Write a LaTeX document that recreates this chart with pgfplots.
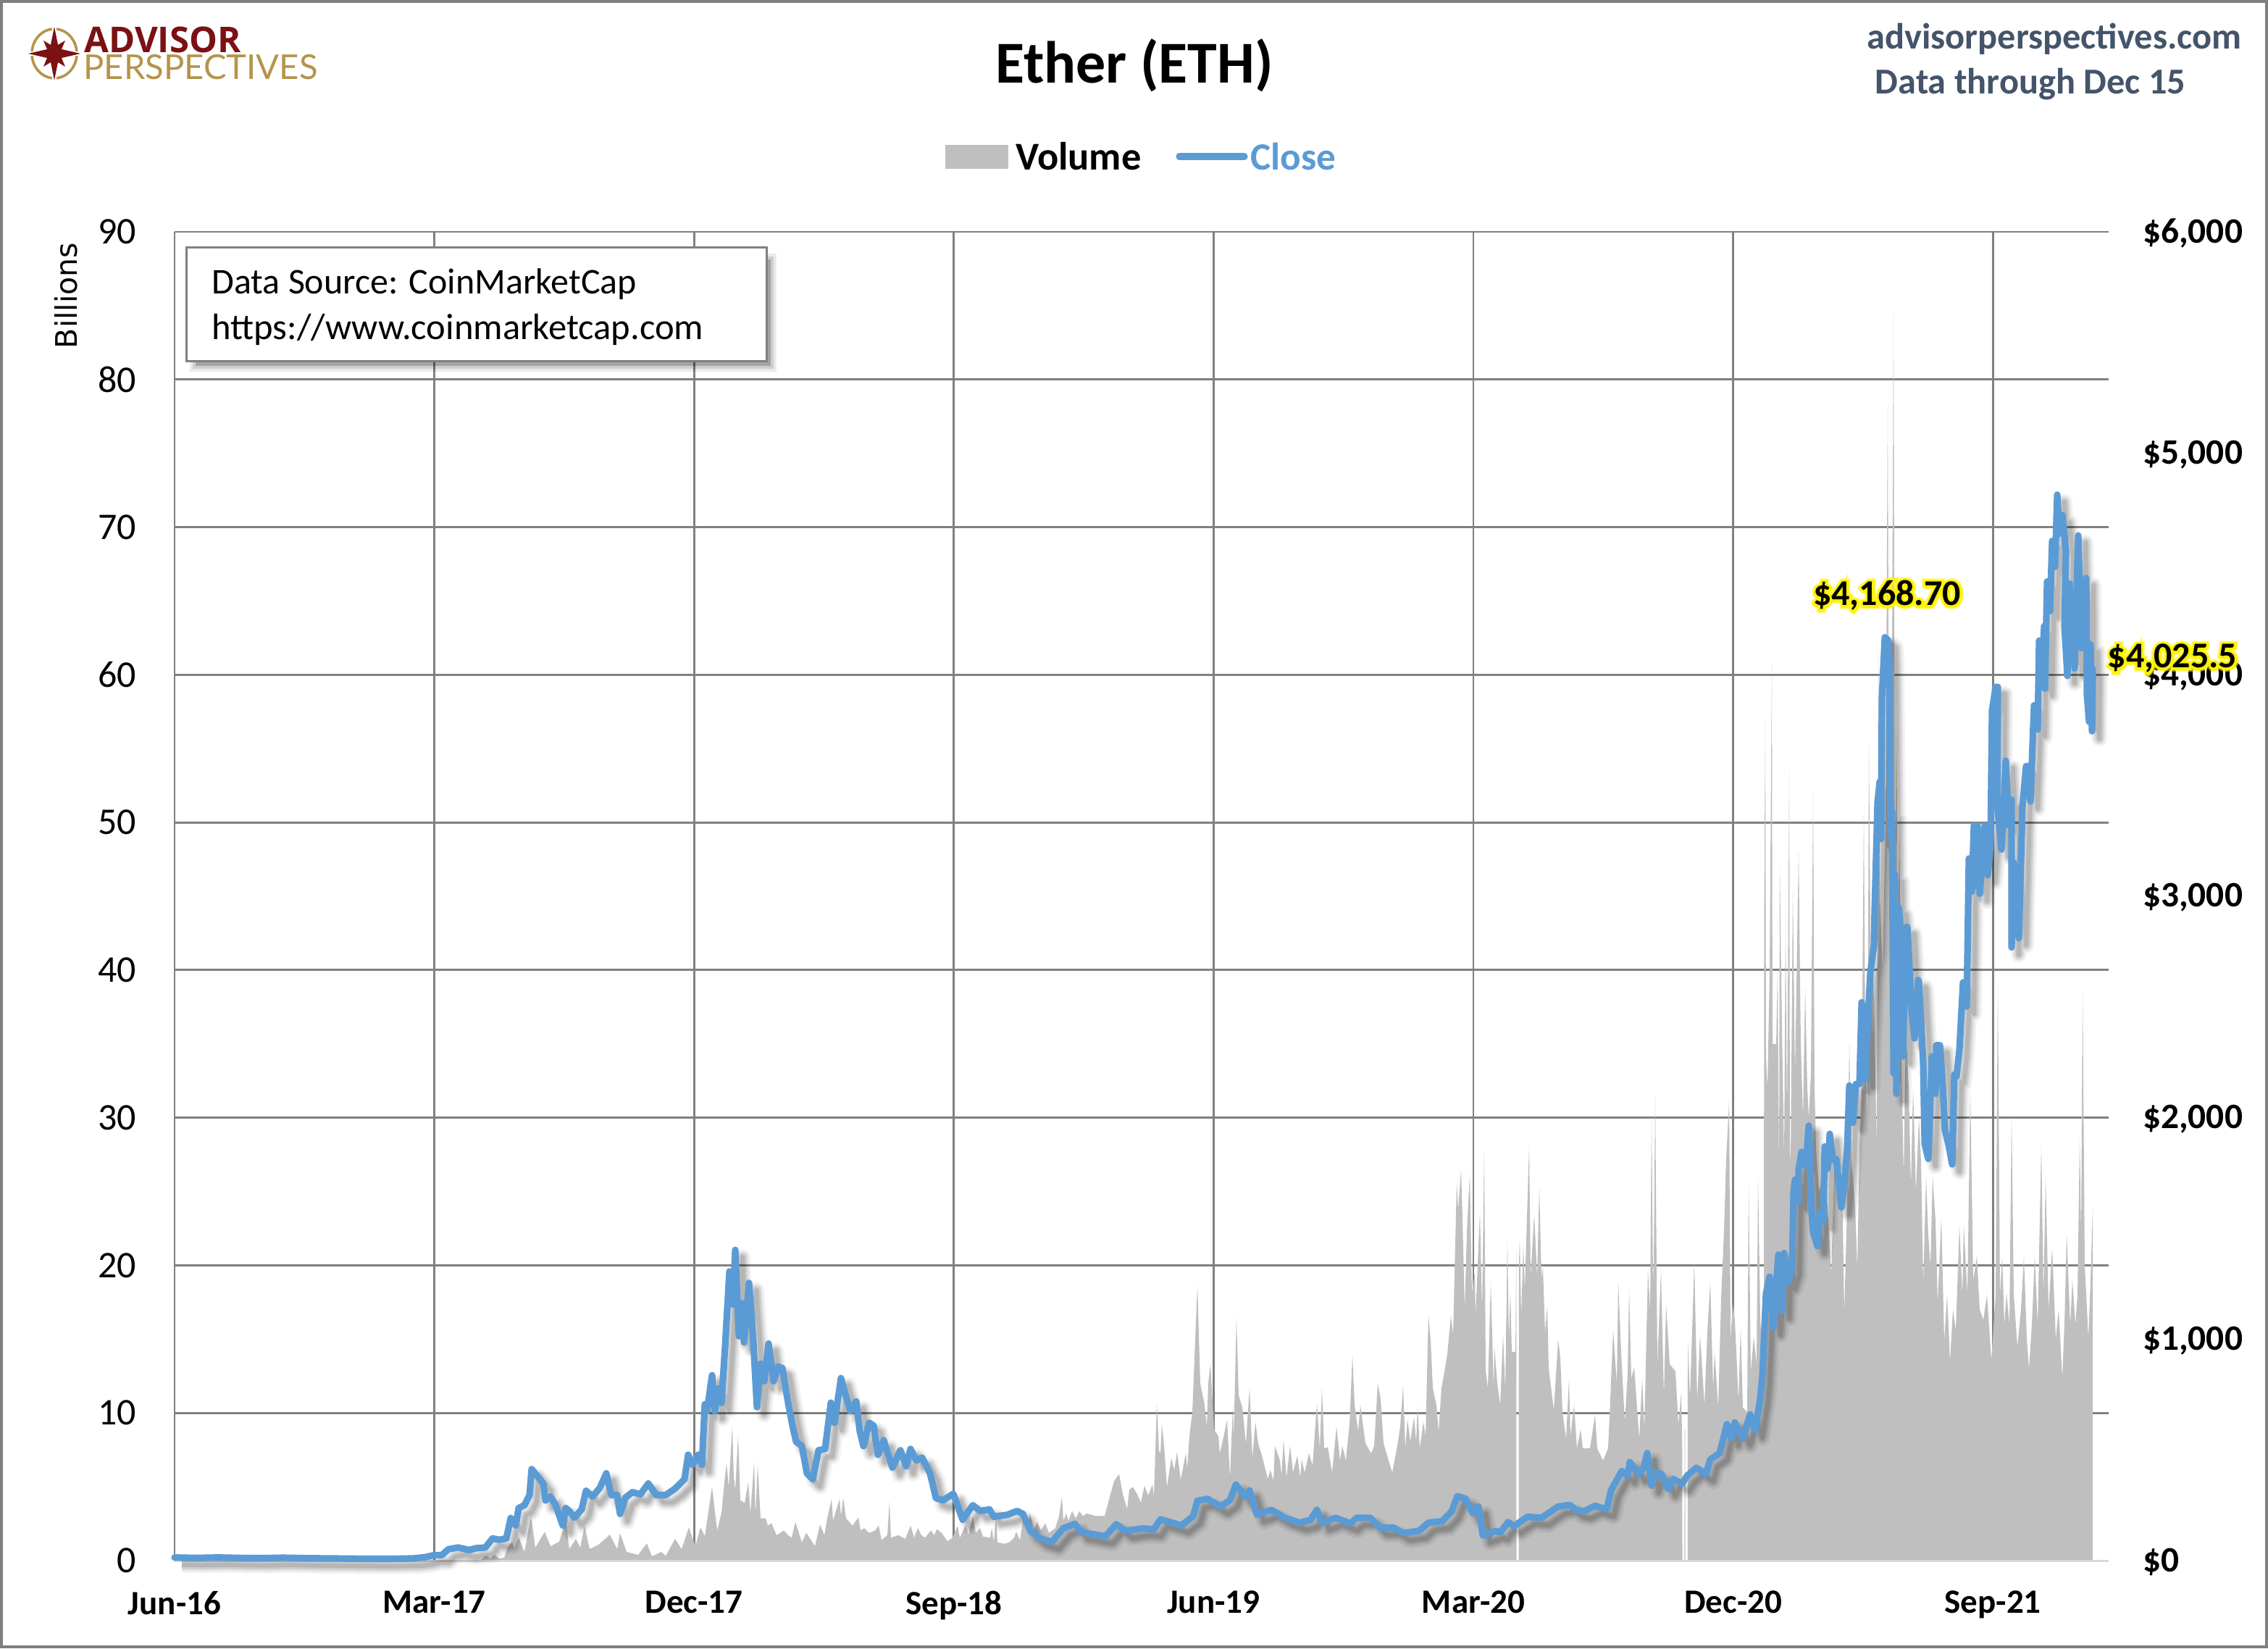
\documentclass[border=0pt]{standalone}
\usepackage{fontspec}
\usepackage{pgfplots}
\usepackage{pgfplotstable}
\pgfplotsset{compat=1.18}
\setmainfont{Carlito}
\newfontfamily\billfont{DejaVu Sans}
\newfontfamily\logoa{Open Sans}
\newfontfamily\logob{Lato}
\newfontfamily\glowa[UprightFont=* Bold,FakeBold=13]{Carlito}
\newfontfamily\glowb[UprightFont=* Bold,FakeBold=20]{Carlito}
\definecolor{gridc}{HTML}{808080}
\definecolor{volc}{HTML}{BFBFBF}
\definecolor{closec}{HTML}{5B9BD5}
\definecolor{headc}{HTML}{44546A}
\definecolor{logored}{HTML}{7B1113}
\definecolor{logogold}{HTML}{B5944A}

% position along the time axis (0 = Jun-16, 358.6 per nine months); volume in billions
\pgfplotstableread{
x v
0 0.02
200 0.02
359 0.03
423 0.06
430 0.33
436 0.14
442 0.37
448 0.14
455 0.2
460 0.88
466 1.27
469 0.78
475 1.56
483 0.59
492 3.01
498 0.88
511 1.95
519 0.98
531 1.27
540 2.74
545 0.78
554 1.47
560 0.88
566 2.35
573 0.78
585 1.07
601 1.76
611 0.78
615 1.86
624 0.59
640 0.39
652 1.17
659 0.29
672 0.59
678 0.33
691 1.47
700 0.78
710 2.25
719 0.98
726 2.25
732 1.66
742 4.99
749 2.05
755 3.2
759 5.3
762 6.6
765 5.0
770 9.15
772 5.64
774 4.8
778 8.5
781 4.1
787 3.9
792 5.3
795 3.2
800 6.7
802 3.1
805 6.5
809 2.86
816 2.86
819 2.37
824 2.53
831 1.72
841 2.04
847 1.72
852 1.55
857 2.62
866 1.23
872 1.88
884 0.98
891 2.45
897 1.72
901 2.86
907 4.17
909 2.7
918 4.17
920 3.02
923 4.25
927 2.86
936 2.37
944 2.94
947 2.04
952 2.2
959 1.88
967 2.04
972 2.37
976 1.39
984 1.72
987 4.0
989 1.55
999 1.72
1009 1.47
1016 2.37
1021 1.55
1026 2.2
1031 1.72
1036 1.55
1044 2.04
1049 1.72
1052 2.13
1059 1.88
1067 1.31
1074 1.55
1081 2.37
1084 1.55
1092 2.37
1096 1.72
1102 3.02
1106 1.88
1112 2.2
1116 1.63
1126 1.55
1128 2.2
1131 1.31
1134 2.86
1136 1.23
1146 1.14
1152 1.23
1159 1.55
1162 1.96
1167 1.39
1172 3.02
1177 2.04
1181 3.19
1186 2.04
1191 2.62
1196 2.04
1202 2.53
1207 1.88
1216 2.2
1221 3.02
1225 4.33
1227 2.7
1231 3.19
1234 2.7
1239 3.35
1244 2.86
1249 3.35
1254 3.02
1259 3.19
1271 3.03
1284 3.03
1297 5.4
1304 5.85
1309 4.5
1315 3.5
1318 4.82
1323 4.99
1329 4.5
1334 3.92
1339 5.07
1344 4.41
1350 5.15
1352 4.33
1356 10.63
1359 7.44
1361 7.27
1363 9.24
1366 7.77
1370 4.99
1376 6.95
1380 6.13
1384 7.36
1389 5.48
1396 7.27
1398 6.29
1401 8.42
1405 10.05
1412 18.64
1416 12
1422 10.54
1425 9.07
1427 12
1430 13.32
1435 8.9
1441 8.42
1443 7.27
1449 8.58
1453 9.56
1457 5.64
1461 10.54
1462 8.25
1466 16.43
1469 11.2
1474 10.38
1479 7.93
1484 11.69
1488 6.95
1492 9.4
1496 7.93
1502 6.95
1509 5.56
1513 6.13
1517 5.39
1519 7.77
1526 6.78
1528 5.8
1531 8.17
1535 5.64
1540 7.77
1544 5.97
1550 7.11
1554 5.64
1556 6.87
1560 5.97
1566 7.27
1571 6.46
1577 10.63
1581 7.6
1584 11.69
1587 7.6
1592 7.68
1598 5.97
1604 9.07
1609 6.78
1612 7.77
1617 6.78
1622 9.24
1626 13.9
1629 10.54
1634 8.75
1637 10.54
1644 7.93
1652 7.27
1656 7.77
1661 12
1665 10.95
1669 7.93
1676 6.78
1681 5.97
1688 7.77
1692 9.07
1696 11.85
1699 7.6
1702 9.56
1706 8.09
1711 9.73
1714 8.09
1716 10.46
1719 7.6
1724 9.4
1727 8.42
1731 16.6
1734 14.96
1737 11.69
1742 10.54
1745 8.75
1749 11.69
1752 12.5
1757 13.98
1762 16.59
1765 15.29
1770 25.58
1772 23.79
1776 26.48
1778 23.13
1781 17.08
1784 22.32
1788 26.16
1791 18.23
1795 19.54
1796 16.59
1802 23.62
1805 16.92
1808 27.79
1810 12.83
1813 11.69
1817 18.88
1821 11.69
1822 14.47
1826 12.02
1830 10.54
1834 15.29
1837 11.53
1840 21.66
1842 14.96
1844 18.23
1846 14.14
1851 14.14
1852.3 21.17
1852.5 0
1855.6 0
1855.8 20
1857 21.82
1859 16.59
1862 21.33
1864 18.39
1870 28.12
1872 19.21
1877 23.46
1881 19.21
1884 25.26
1887 19.21
1889 19.86
1892 15.45
1895 17.25
1897 13
1904 10.22
1910 14.96
1913 13.81
1916 10.05
1921 8.26
1925 12.34
1927 8.42
1932 10.54
1936 7.6
1941 8.91
1944 7.6
1954 7.6
1961 9.89
1964 7.6
1972 6.78
1979 7.6
1982 10.87
1986 15.61
1991 12
1993 18.88
1997 14.14
2002 9.4
2006 12.67
2008 18.39
2011 12.34
2015 13.08
2022 8.26
2026 12.34
2029 8.91
2034 19.7
2037 16.92
2039 30
2041 19
2042 20.2
2044 31.5
2047 13.3
2052 19.7
2056 11.2
2059 17.41
2064 13.3
2072 12.83
2076 9.24
2080 11.36
2081.3 7.6
2081.5 0
2084.4 0
2084.6 8.9
2085.4 8.9
2085.6 0
2088.8 0
2089 14.96
2092 11.03
2098 20.19
2102 10.87
2106 15.29
2112 10.54
2116 15.45
2120 18.88
2124 11.69
2126 14.14
2131 10.38
2135 17.74
2139 22.32
2142 27.22
2146 31.1
2148 14.96
2151 17.41
2154 16.27
2159 10.87
2162 15.78
2165 10.38
2171 10.05
2173 25.42
2176 12.83
2180 15.12
2184 13.32
2186 25.99
2189 16.59
2192 13.32
2194 14
2194.4 44
2196 57
2197 34
2199 32
2202 40
2205 60.7
2206 35
2211 35
2213 40
2215 26
2216 47
2219 36
2222 27.3
2224 43.5
2226 30
2229 53.5
2230 28
2231 27
2234 45.4
2237 33
2242 48
2245 35
2248 30
2251 38.8
2254 32
2256 30
2259 33
2262 52
2264 32
2266 28
2270 25
2276 26
2282 24
2287 19.4
2292 28
2298 24
2302 26
2305 16.8
2309 24
2312 35
2315 27
2320 24
2323 19.8
2326 28
2329 32
2332 50.7
2334 35
2337 30
2339 55.3
2342 38
2345 40
2350 28
2352 62
2354 45
2358 40
2362 50
2365 78.3
2367 48
2370 50
2373 84.5
2375 46
2377 56
2379 40
2381 50
2384 34
2387 26
2390 36
2394 32
2397 25.4
2400 32
2404 25
2408 30
2411 27
2414 18.8
2418 26
2421 22
2424 20
2427 26
2431 23
2434 17.5
2437 21
2439 23.2
2443 14.9
2447 18
2451 13.5
2455 17
2459 15.6
2464 22.7
2468 18
2470 22.7
2475 18
2479 31.9
2483 19
2488 20.6
2492 17
2497 16.3
2502 18
2508 13.6
2514 18
2517 39.2
2520 18
2523 20.6
2526 16
2529 18.1
2533 16
2536 30.3
2539 18
2544 14.5
2549 17
2553 20.6
2557 15
2560 13
2564 16
2568 20.6
2572 16
2577 28.2
2580 18
2583 26
2587 17
2592 21.2
2597 15
2601 17
2606 12.4
2609 16
2612 22.1
2617 16
2620 19
2624 16
2627 18
2630 28.5
2632 22
2634 38.6
2637 20
2642 15.1
2645 19
2648 23.9
}\voltable

% close in dollars
\pgfplotstableread{
x c
0 14
30 12
60 14
90 12
120 11
150 13
180 11
210 10
240 9
270 8
300 8
330 10
345 15
359 25
369 25
378 51
391 59
407 48
416 56
429 59
439 100
448 94
458 100
464 192
471 159
475 237
483 250
490 296
493 413
501 381
509 348
512 272
519 289
526 250
536 159
540 237
545 224
552 194
562 231
568 315
577 289
587 328
596 394
603 296
611 296
615 211
622 283
632 309
643 299
654 348
665 296
678 296
691 325
704 368
709 478
715 433
723 478
728 433
732 706
735 674
742 837
746 674
750 778
755 713
760 967
766 1306
771 1156
774 1403
779 1013
783 1162
786 986
793 1254
799 986
804 693
809 889
814 810
820 980
827 810
833 876
839 869
847 713
853 609
858 537
866 517
873 394
881 368
889 498
898 504
906 713
911 622
920 824
927 739
933 674
941 719
946 583
951 517
959 622
965 609
971 478
979 543
991 420
1002 498
1010 426
1016 504
1024 452
1032 465
1043 394
1051 283
1061 272
1075 302
1088 185
1102 250
1112 224
1125 231
1131 198
1150 207
1163 224
1171 211
1182 133
1195 100
1211 84
1227 146
1243 166
1252 127
1259 124
1285 110
1300 164
1313 134
1336 145
1352 142
1361 186
1390 159
1406 200
1412 270
1426 279
1444 244
1457 273
1465 343
1479 288
1484 317
1494 208
1514 229
1533 193
1553 171
1568 183
1577 229
1584 171
1603 193
1623 168
1632 193
1651 193
1664 149
1683 149
1696 124
1718 134
1731 171
1750 178
1763 222
1771 291
1782 280
1792 215
1800 244
1806 113
1824 134
1830 127
1841 174
1849 156
1868 198
1887 193
1910 244
1926 251
1935 229
1945 222
1961 247
1977 232
1983 317
1998 405
2006 383
2009 445
2021 390
2028 419
2033 485
2039 339
2045 397
2053 390
2062 324
2069 368
2081 346
2088 383
2101 419
2114 390
2120 456
2133 485
2143 616
2149 551
2154 624
2165 551
2175 660
2182 587
2189 733
2192 834
2197 1207
2202 1282
2207 1051
2214 1382
2219 1126
2222 1389
2227 1257
2233 1320
2235 1664
2237 1720
2241 1620
2242 1764
2246 1845
2252 1783
2256 1964
2260 1570
2262 1482
2268 1420
2271 1570
2276 1532
2278 1870
2282 1770
2285 1927
2289 1808
2294 1814
2301 1595
2305 1695
2309 1858
2312 2145
2317 1977
2321 2152
2326 2152
2329 2521
2334 2170
2337 2408
2341 2653
2346 2778
2347 2945
2351 3425
2354 3518
2356 3258
2357 3894
2361 4169
2366 4154
2367 4071
2369 3279
2371 3383
2373 2200
2375 3100
2377 2108
2380 2950
2382 2893
2384 2300
2386 2277
2390 2860
2392 2862
2396 2611
2397 2515
2402 2358
2407 2622
2408 2615
2414 2246
2416 1883
2421 1814
2426 2277
2431 2108
2432 2327
2437 2327
2441 2145
2444 1945
2449 1877
2454 1789
2457 2195
2460 2186
2464 2308
2469 2611
2474 2502
2477 3170
2481 3020
2484 3320
2486 3045
2489 3320
2492 3011
2499 3320
2503 3095
2507 3236
2509 3837
2514 3945
2517 3945
2516 3428
2522 3211
2528 3612
2532 3320
2536 3436
2536 2769
2539 3153
2546 2811
2551 3403
2556 3587
2558 3587
2562 3428
2567 3862
2572 3753
2574 4154
2577 3960
2581 4220
2582 3937
2585 4421
2589 4287
2592 4604
2596 4487
2599 4813
2602 4637
2606 4721
2611 4562
2609 4220
2613 3995
2616 4412
2619 4087
2621 4346
2623 4029
2628 4629
2632 4120
2639 4437
2640 3912
2643 3787
2645 4137
2647 3745
2648 4025.5
}\closetable

\newcommand{\glowtext}[3]{% position, font size, text
  \node[text=yellow,inner sep=0pt,opacity=.5] at (#1) {\fontsize{#2}{#2}\selectfont\glowb #3};
  \node[text=yellow,inner sep=0pt] at (#1) {\fontsize{#2}{#2}\selectfont\glowa #3};
  \node[text=black,inner sep=0pt] at (#1) {\fontsize{#2}{#2}\selectfont\bfseries #3};
}

\begin{document}
\begin{tikzpicture}
\path[use as bounding box] (0,0) rectangle (1565.5pt,1137.5pt);
\fill[white] (0,0) rectangle (1565.5pt,1137.5pt);
\draw[gridc,line width=1.8pt] (0.9pt,0.9pt) rectangle (1564.6pt,1136.6pt);

\begin{axis}[
  name=left, at={(120.5pt,60.5pt)}, anchor=south west,
  width=1335pt, height=917pt, scale only axis,
  xmin=0, xmax=2670, ymin=0, ymax=90,
  clip=false,
  axis line style={draw=none},
  major tick length=0pt,
  xtick={0,358.6,717.2,1075.8,1434.4,1793,2151.6,2510.2},
  xticklabels={Jun-16,Mar-17,Dec-17,Sep-18,Jun-19,Mar-20,Dec-20,Sep-21},
  ytick={0,10,...,90},
  yticklabels={0,10,20,30,40,50,60,70,80,90},
  grid=major,
  grid style={gridc,line width=1.4pt},
  x tick label style={font=\fontsize{23.5pt}{24pt}\selectfont\bfseries,yshift=-17.5pt},
  y tick label style={font=\fontsize{26pt}{27pt}\selectfont,xshift=-23pt},
]
\addplot[fill=volc,draw=none] table[x=x,y=v]{\voltable} \closedcycle;
\draw[color=white!85!black,line width=1.5pt] (axis cs:0,0) -- (axis cs:2670,0);
\end{axis}

\begin{axis}[
  at={(120.5pt,60.5pt)}, anchor=south west,
  width=1335pt, height=917pt, scale only axis,
  xmin=0, xmax=2670, ymin=0, ymax=6000,
  clip=false,
  hide x axis,
  axis y line*=right,
  axis line style={draw=none},
  major tick length=0pt,
  ytick={0,1000,...,6000},
  yticklabels={\$0,{\$1,000},{\$2,000},{\$3,000},{\$4,000},{\$5,000},{\$6,000}},
  y tick label style={font=\fontsize{24.7pt}{25pt}\selectfont\bfseries,xshift=20pt,yshift=-1pt},
]
\addplot[black,opacity=.05,line width=11pt,line join=round,xshift=5pt,yshift=-5pt] table[x=x,y=c]{\closetable};
\addplot[black,opacity=.07,line width=8pt,line join=round,xshift=5pt,yshift=-5pt] table[x=x,y=c]{\closetable};
\addplot[black,opacity=.09,line width=5.5pt,line join=round,xshift=5pt,yshift=-5pt] table[x=x,y=c]{\closetable};
\addplot[black,opacity=.10,line width=3pt,line join=round,xshift=5pt,yshift=-5pt] table[x=x,y=c]{\closetable};
\addplot[closec,line width=4.6pt,line join=round,line cap=round] table[x=x,y=c]{\closetable};
\end{axis}

\begin{scope}[x=.5pt,y=-.5pt,yshift=1137.5pt]
  % title and header
  \node[inner sep=0pt] at (1566,90) {\fontsize{41pt}{42pt}\selectfont\bfseries Ether (ETH)};
  \node[inner sep=0pt,text=headc] at (2836,54) {\fontsize{25.2pt}{26pt}\selectfont\bfseries advisorperspectives.com};
  \node[inner sep=0pt,text=headc] at (2803,116) {\fontsize{25.2pt}{26pt}\selectfont\bfseries Data through Dec 15};
  % legend
  \fill[volc] (1305,200) rectangle (1392,233);
  \node[inner sep=0pt,anchor=west] at (1402,216) {\fontsize{27.2pt}{28pt}\selectfont\bfseries Volume};
  \draw[closec,line width=4.6pt,line cap=round] (1628,216) -- (1718,216);
  \node[inner sep=0pt,anchor=west,text=closec] at (1726,216) {\fontsize{26.6pt}{28pt}\selectfont\bfseries Close};
  % y axis unit
  \node[inner sep=0pt,rotate=90] at (91,408) {\billfont\fontsize{20.5pt}{21pt}\selectfont Billions};
  % source box
  \fill[black,opacity=.08] (262,350) rectangle (1072,513);
  \fill[black,opacity=.12] (266,354) rectangle (1068,509);
  \fill[black,opacity=.2] (270,358) rectangle (1064,505);
  \draw[gridc,line width=1.5pt,fill=white] (257,342) rectangle (1058,499);
  \node[inner sep=0pt,anchor=west] at (292,392) {\fontsize{25pt}{26pt}\selectfont Data Source: CoinMarketCap};
  \node[inner sep=0pt,anchor=west] at (292,455) {\fontsize{25.3pt}{26pt}\selectfont https://www.coinmarketcap.com};
  % logo
  \draw[logogold,line width=1.8pt] (75,74) ellipse (31 and 34);
  \fill[white] (72,36) rectangle (78,112);
  \fill[white] (38,71) rectangle (112,77);
  \fill[logored] (75,37) -- (80,62) -- (90,56) -- (85,68) -- (111,74) -- (85,80) -- (90,92) -- (80,86)
     -- (75,111) -- (70,86) -- (60,92) -- (65,80) -- (39,74) -- (65,68) -- (60,56) -- (70,62) -- cycle;
  \node[inner sep=0pt,anchor=base west,text=logored] at (116,73) {\logoa\fontsize{24.5pt}{25pt}\selectfont\bfseries ADVISOR};
  \node[inner sep=0pt,anchor=base west,text=logogold] at (115,110) {\logob\fontsize{23.6pt}{24pt}\selectfont PERSPECTIVES};
  % value labels
  \glowtext{2605,822}{25pt}{\$4,168.70}
  \glowtext{2999,909}{25pt}{\$4,025.5}
\end{scope}
\end{tikzpicture}
\end{document}
